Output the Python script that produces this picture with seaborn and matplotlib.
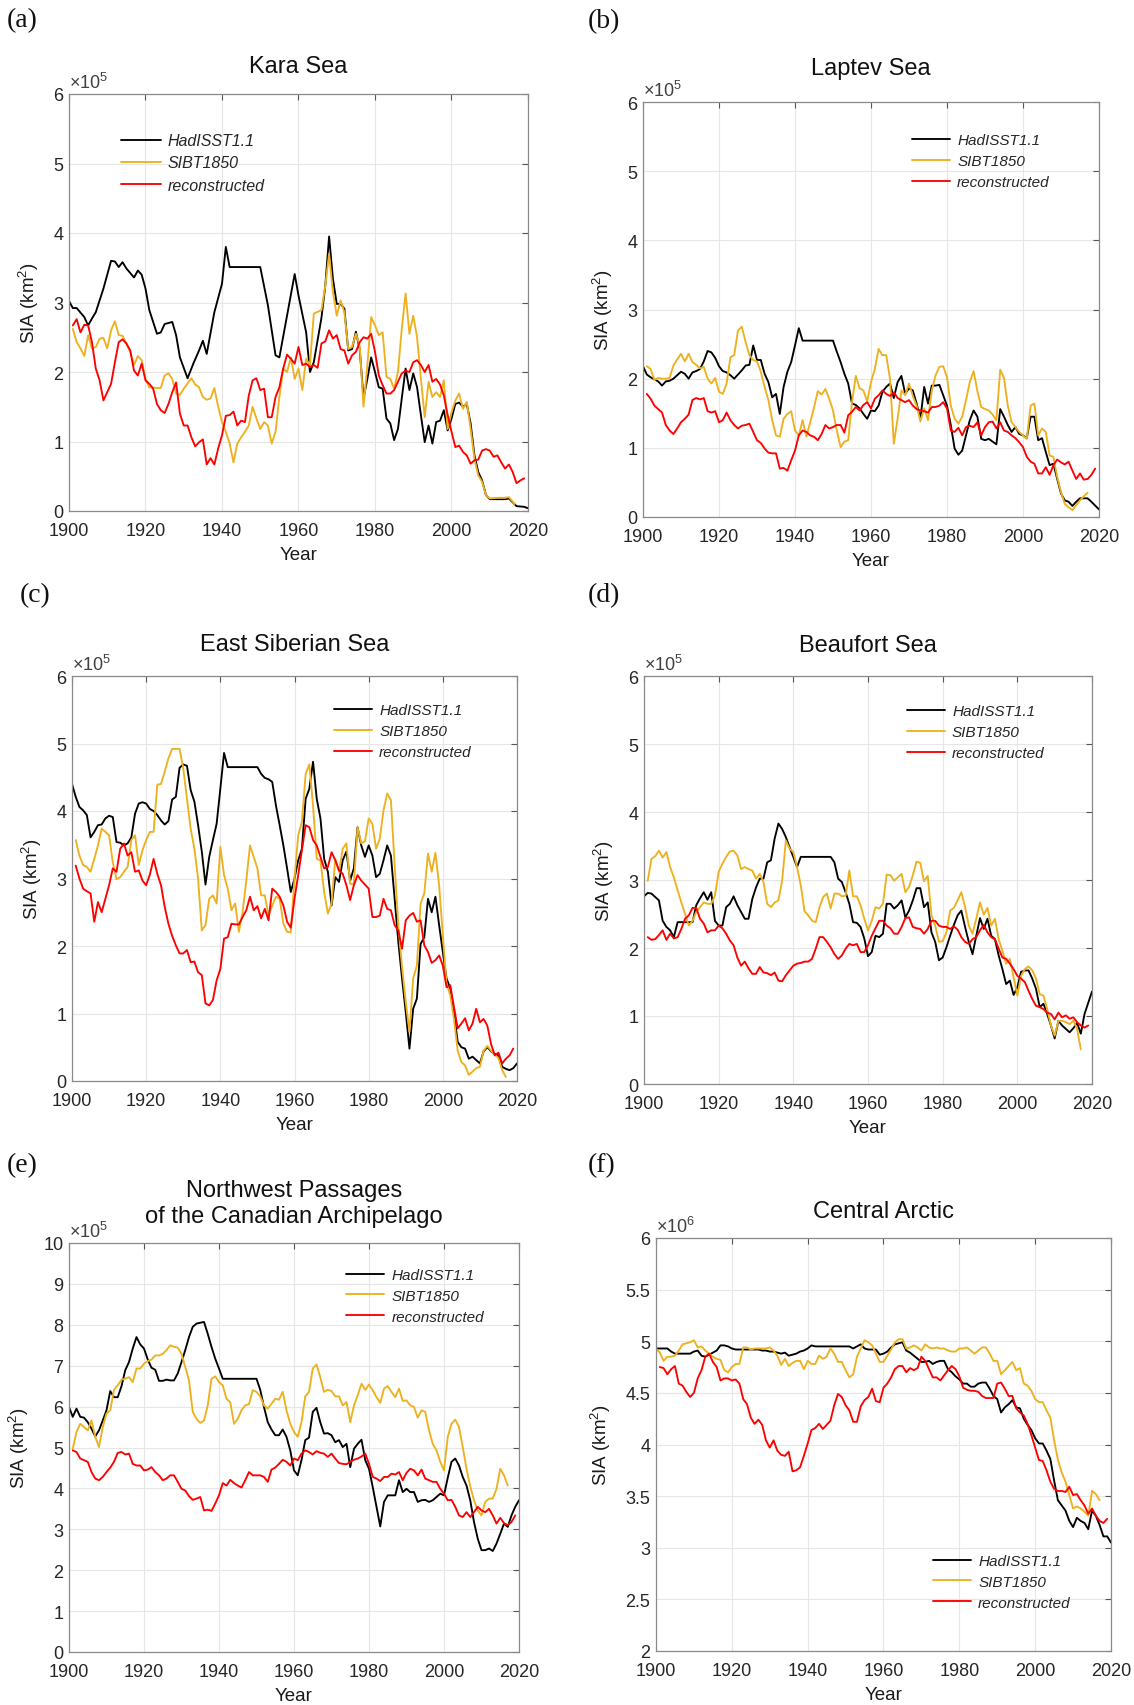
import matplotlib
matplotlib.use("Agg")
import matplotlib.pyplot as plt
import seaborn as sns

# ---------------- DATA (SIA; panels a-e in 1e5 km^2, panel f in 1e6 km^2) ----------------
SERIES_NAMES = ["HadISST1.1", "SIBT1850", "reconstructed"]
SERIES_COLORS = ["#000000", "#EDB120", "#FF0000"]

# (a) Kara Sea
A_HAD_YR = [1900, 1901, 1902, 1904, 1905, 1906, 1907, 1909, 1911, 1912, 1913, 1914, 1915, 1917, 1918, 1919, 1920,
            1921, 1923, 1924, 1925, 1927, 1928, 1929, 1931, 1932.5, 1934, 1935, 1936, 1938, 1940, 1941, 1942, 1950,
            1952, 1954, 1955, 1957, 1959, 1960, 1962, 1963, 1964, 1966, 1967, 1968, 1969, 1970, 1971, 1972, 1973,
            1974, 1975, 1976, 1977, 1978, 1979, 1980, 1981, 1982, 1983, 1984, 1985, 1986, 1987, 1988, 1989, 1990,
            1991, 1992, 1993, 1994, 1995, 1996, 1997, 1998, 1999, 2000, 2001, 2002, 2003, 2004, 2005, 2006, 2007,
            2008, 2009, 2010, 2012, 2014, 2015, 2017, 2019, 2020]
A_HAD = [3.02, 2.92, 2.92, 2.79, 2.67, 2.77, 2.86, 3.2, 3.6, 3.59, 3.51, 3.58, 3.49, 3.36, 3.46, 3.4, 3.2, 2.89, 2.55,
         2.57, 2.69, 2.72, 2.53, 2.21, 1.91, 2.12, 2.31, 2.45, 2.26, 2.86, 3.27, 3.8, 3.51, 3.51, 2.96, 2.24, 2.21,
         2.81, 3.41, 3.1, 2.57, 2.0, 2.14, 2.78, 3.24, 3.95, 3.34, 2.98, 2.98, 2.91, 2.31, 2.33, 2.58, 2.33, 1.62,
         1.9, 2.21, 2.0, 1.78, 1.76, 1.33, 1.26, 1.02, 1.18, 1.62, 2.05, 1.74, 1.98, 1.78, 1.38, 0.99, 1.23, 0.97,
         1.28, 1.3, 1.45, 1.16, 1.33, 1.54, 1.56, 1.5, 1.54, 1.26, 0.8, 0.56, 0.44, 0.23, 0.17, 0.17, 0.17, 0.18,
         0.07, 0.06, 0.04]
A_SIBT_YR = [1901, 1902, 1903, 1904, 1905, 1906, 1907, 1908, 1909, 1910, 1911, 1912, 1913, 1914, 1915, 1916, 1917,
             1918, 1919, 1920, 1921, 1923, 1924, 1925, 1926, 1927, 1928, 1929, 1930, 1932, 1933, 1934, 1935, 1936,
             1937, 1938, 1939, 1940, 1941, 1942, 1943, 1944, 1945, 1946, 1947, 1948, 1949, 1950, 1951, 1952, 1953,
             1954, 1955, 1956, 1957, 1958, 1959, 1960, 1961, 1962, 1963, 1964, 1966, 1967, 1968, 1969, 1970, 1971,
             1972, 1973, 1974, 1975, 1976, 1977, 1978, 1979, 1980, 1981, 1982, 1983, 1984, 1985, 1986, 1987, 1988,
             1989, 1990, 1991, 1992, 1993, 1994, 1995, 1996, 1997, 1998, 1999, 2000, 2001, 2002, 2003, 2004, 2005,
             2006, 2007, 2008, 2009, 2010, 2012, 2014, 2015, 2016.5]
A_SIBT = [2.62, 2.43, 2.34, 2.23, 2.53, 2.34, 2.36, 2.48, 2.49, 2.34, 2.6, 2.73, 2.53, 2.52, 2.41, 2.29, 2.1, 2.23,
          2.17, 1.9, 1.78, 1.77, 1.77, 1.95, 1.98, 1.9, 1.69, 1.67, 1.76, 1.91, 1.82, 1.78, 1.64, 1.6, 1.62, 1.77,
          1.5, 1.28, 1.14, 0.97, 0.7, 0.97, 1.06, 1.14, 1.23, 1.5, 1.33, 1.18, 1.28, 1.23, 0.97, 1.14, 1.64, 2.05,
          2.0, 2.21, 1.9, 2.05, 1.74, 2.19, 2.1, 2.84, 2.89, 3.24, 3.7, 3.15, 2.81, 3.03, 2.86, 2.33, 2.36, 2.55,
          2.38, 1.5, 2.1, 2.79, 2.67, 2.53, 2.57, 1.93, 1.9, 1.76, 2.0, 2.62, 3.13, 2.55, 2.81, 2.5, 1.9, 1.35, 1.86,
          1.64, 1.71, 1.64, 1.88, 1.18, 1.42, 1.59, 1.69, 1.47, 1.57, 1.18, 0.75, 0.51, 0.42, 0.23, 0.18, 0.19,
          0.19, 0.2, 0.1]
A_REC_YR = list(range(1901, 2020))
A_REC = [2.67, 2.76, 2.57, 2.68, 2.67, 2.43, 2.05, 1.88, 1.59, 1.71,
         1.83, 2.14, 2.43, 2.47, 2.41, 2.31, 2.02, 1.95, 2.12, 1.88,
         1.83, 1.76, 1.54, 1.45, 1.41, 1.54, 1.71, 1.85, 1.4, 1.23,
         1.23, 1.06, 0.93, 0.99, 1.03, 0.67, 0.76, 0.67, 0.9, 1.09,
         1.37, 1.38, 1.43, 1.23, 1.3, 1.28, 1.66, 1.88, 1.91, 1.74,
         1.76, 1.35, 1.35, 1.64, 1.78, 2.05, 2.25, 2.19, 2.12, 2.36,
         2.1, 2.12, 2.07, 2.1, 2.06, 2.41, 2.44, 2.6, 2.48, 2.53,
         2.33, 2.31, 2.12, 2.24, 2.29, 2.43, 2.5, 2.48, 2.55, 2.29,
         1.95, 1.81, 1.69, 1.69, 1.74, 1.86, 1.98, 2.02, 2.0, 2.14,
         2.17, 2.1, 2.0, 2.1, 1.86, 1.9, 1.82, 1.66, 1.38, 1.14,
         0.92, 0.94, 0.85, 0.8, 0.68, 0.73, 0.74, 0.87, 0.89, 0.87,
         0.78, 0.8, 0.7, 0.61, 0.67, 0.56, 0.4, 0.44, 0.47]

# (b) Laptev Sea
B_HAD_YR = [*range(1900, 1943), 1950, *range(1951, 2019), 2020]
B_HAD = [2.18, 2.06, 2.02, 1.99, 1.96, 1.9, 1.96, 1.97, 2.0, 2.05,
         2.1, 2.07, 2.0, 2.09, 2.11, 2.14, 2.25, 2.4, 2.38, 2.3,
         2.18, 2.11, 2.09, 2.05, 2.0, 2.06, 2.12, 2.19, 2.2, 2.48,
         2.27, 2.27, 2.07, 1.95, 1.73, 1.78, 1.49, 1.88, 2.1, 2.24,
         2.48, 2.73, 2.55,
         2.55,
         2.39, 2.24, 2.07, 1.93, 1.64, 1.62, 1.57, 1.49, 1.42, 1.54,
         1.53, 1.61, 1.81, 1.88, 1.93, 1.72, 1.95, 2.04, 1.78, 1.86,
         1.83, 1.64, 1.42, 1.88, 1.64, 1.9, 1.9, 1.91, 1.76, 1.61,
         1.33, 0.99, 0.9, 0.96, 1.18, 1.4, 1.54, 1.45, 1.13, 1.11,
         1.13, 1.09, 1.05, 1.56, 1.45, 1.33, 1.23, 1.3, 1.2, 1.18,
         1.14, 1.45, 1.45, 1.11, 1.14, 0.94, 0.75, 0.77, 0.55, 0.34,
         0.24, 0.22, 0.16, 0.22, 0.27, 0.27, 0.27, 0.22,
         0.11]
B_SIBT_YR = list(range(1901, 2018))
B_SIBT = [2.18, 2.14, 1.98, 2.01, 2.0, 2.0, 2.01, 2.19, 2.28, 2.36,
          2.25, 2.36, 2.24, 2.2, 2.15, 2.17, 2.0, 1.93, 2.01, 1.81,
          1.78, 1.93, 2.31, 2.34, 2.7, 2.75, 2.53, 2.34, 2.27, 2.25,
          2.1, 1.88, 1.69, 1.4, 1.18, 1.16, 1.42, 1.49, 1.53, 1.25,
          1.18, 1.4, 1.16, 1.37, 1.58, 1.82, 1.77, 1.85, 1.71, 1.54,
          1.25, 1.01, 1.09, 1.11, 1.66, 2.04, 1.86, 1.83, 1.67, 1.95,
          2.14, 2.43, 2.34, 2.34, 2.0, 1.06, 1.42, 1.83, 1.76, 1.93,
          1.75, 1.61, 1.38, 1.57, 1.4, 1.83, 2.05, 2.17, 2.18, 2.02,
          1.61, 1.42, 1.35, 1.45, 1.69, 1.95, 2.11, 1.82, 1.59, 1.56,
          1.54, 1.48, 1.4, 2.13, 2.01, 1.61, 1.37, 1.3, 1.23, 1.18,
          1.13, 1.61, 1.64, 1.18, 1.28, 1.23, 0.89, 0.87, 0.58, 0.36,
          0.19, 0.14, 0.1, 0.17, 0.24, 0.3, 0.35]
B_REC_YR = list(range(1901, 2020))
B_REC = [1.78, 1.71, 1.61, 1.56, 1.51, 1.33, 1.25, 1.2, 1.28, 1.37,
         1.42, 1.48, 1.69, 1.72, 1.7, 1.72, 1.53, 1.51, 1.53, 1.37,
         1.4, 1.51, 1.4, 1.33, 1.28, 1.32, 1.33, 1.35, 1.23, 1.11,
         1.07, 0.99, 0.93, 0.92, 0.92, 0.7, 0.71, 0.67, 0.82, 0.96,
         1.18, 1.25, 1.23, 1.18, 1.16, 1.11, 1.2, 1.33, 1.28, 1.3,
         1.33, 1.33, 1.22, 1.47, 1.52, 1.59, 1.54, 1.62, 1.66, 1.57,
         1.71, 1.76, 1.83, 1.78, 1.75, 1.8, 1.72, 1.69, 1.66, 1.69,
         1.61, 1.56, 1.54, 1.53, 1.51, 1.59, 1.59, 1.61, 1.66, 1.57,
         1.25, 1.23, 1.29, 1.18, 1.3, 1.32, 1.3, 1.37, 1.18, 1.3,
         1.37, 1.38, 1.28, 1.37, 1.25, 1.23, 1.18, 1.14, 1.08, 1.01,
         0.87, 0.8, 0.77, 0.63, 0.63, 0.72, 0.61, 0.75, 0.83, 0.79,
         0.76, 0.8, 0.67, 0.55, 0.63, 0.54, 0.55, 0.61, 0.7]

# (c) East Siberian Sea
C_HAD_YR = [*range(1900, 1943), 1950, *range(1951, 2021)]
C_HAD = [4.4, 4.21, 4.06, 4.01, 3.94, 3.61, 3.69, 3.79, 3.8, 3.89,
         3.93, 3.91, 3.54, 3.53, 3.49, 3.52, 3.61, 3.96, 4.11, 4.13,
         4.11, 4.03, 4.0, 3.94, 3.86, 3.8, 3.85, 4.17, 4.21, 4.64,
         4.69, 4.67, 4.31, 4.14, 3.79, 3.4, 2.91, 3.32, 3.57, 3.81,
         4.33, 4.86, 4.65,
         4.65,
         4.55, 4.49, 4.47, 4.43, 4.08, 3.79, 3.49, 3.15, 2.8, 3.0,
         3.27, 3.44, 4.18, 4.33, 4.73, 4.18, 3.89, 3.29, 3.1, 2.6,
         3.02, 2.95, 3.27, 3.4, 2.97, 3.15, 3.76, 3.49, 3.32, 3.49,
         3.34, 3.02, 3.07, 3.27, 3.49, 3.34, 2.7, 2.06, 1.52, 1.02,
         0.48, 1.07, 1.22, 2.03, 2.13, 2.7, 2.5, 2.73, 2.31, 1.91,
         1.52, 1.37, 1.02, 0.58, 0.5, 0.48, 0.33, 0.36, 0.31, 0.26,
         0.44, 0.5, 0.44, 0.4, 0.38, 0.21, 0.18, 0.16, 0.19, 0.26]
C_SIBT_YR = list(range(1901, 2018))
C_SIBT = [3.57, 3.34, 3.2, 3.17, 3.1, 3.29, 3.49, 3.74, 3.69, 3.64,
          3.24, 2.99, 3.02, 3.1, 3.17, 3.57, 3.64, 3.2, 3.42, 3.57,
          3.69, 3.69, 4.39, 4.4, 4.58, 4.78, 4.92, 4.92, 4.92, 4.63,
          4.18, 3.74, 3.44, 3.0, 2.23, 2.31, 2.7, 2.75, 2.63, 3.47,
          3.05, 2.85, 2.53, 2.63, 2.21, 2.5, 2.97, 3.49, 3.32, 3.15,
          2.75, 2.75, 2.45, 2.6, 2.73, 2.7, 2.33, 2.21, 2.2, 3.0,
          3.64, 3.84, 4.55, 4.69, 4.08, 3.29, 3.27, 2.8, 2.48, 2.63,
          3.29, 3.1, 3.44, 3.52, 2.92, 2.92, 3.76, 3.52, 3.55, 3.89,
          3.81, 3.44, 3.59, 4.01, 4.26, 4.16, 3.2, 2.31, 1.69, 1.17,
          0.73, 1.52, 1.71, 2.63, 2.78, 3.37, 3.1, 3.38, 2.9, 2.16,
          1.44, 1.27, 0.92, 0.45, 0.28, 0.23, 0.09, 0.14, 0.19, 0.21,
          0.45, 0.52, 0.45, 0.39, 0.34, 0.16, 0.06]
C_REC_YR = list(range(1901, 2020))
C_REC = [3.19, 3.0, 2.85, 2.81, 2.78, 2.36, 2.65, 2.5, 2.7, 2.9,
         3.15, 3.1, 3.44, 3.52, 3.34, 3.39, 3.1, 3.12, 2.97, 2.9,
         3.06, 3.29, 3.07, 2.9, 2.58, 2.33, 2.15, 2.01, 1.89, 1.89,
         1.94, 1.76, 1.77, 1.61, 1.57, 1.15, 1.12, 1.2, 1.49, 1.66,
         2.11, 2.13, 2.33, 2.32, 2.32, 2.43, 2.53, 2.73, 2.53, 2.59,
         2.41, 2.55, 2.38, 2.85, 2.8, 2.73, 2.6, 2.36, 2.27, 2.7,
         3.05, 3.42, 3.79, 3.76, 3.57, 3.49, 3.32, 3.15, 3.17, 3.39,
         3.27, 3.12, 3.07, 2.9, 2.68, 2.9, 3.05, 2.97, 2.91, 2.85,
         2.43, 2.43, 2.45, 2.7, 2.55, 2.53, 2.31, 2.23, 1.96, 2.38,
         2.45, 2.49, 2.36, 2.38, 2.01, 1.91, 1.75, 1.79, 1.86, 1.71,
         1.39, 1.42, 1.1, 0.78, 0.85, 0.93, 0.75, 0.85, 1.07, 0.87,
         0.92, 0.82, 0.55, 0.38, 0.42, 0.26, 0.33, 0.38, 0.48]

# (d) Beaufort Sea
D_HAD_YR = [*range(1900, 1943), 1950, *range(1951, 2019), 2020]
D_HAD = [2.76, 2.81, 2.8, 2.75, 2.7, 2.4, 2.31, 2.26, 2.16, 2.38,
         2.38, 2.38, 2.38, 2.38, 2.63, 2.73, 2.82, 2.71, 2.82, 2.4,
         2.33, 2.33, 2.6, 2.65, 2.76, 2.63, 2.53, 2.43, 2.43, 2.72,
         2.89, 3.02, 3.02, 3.26, 3.29, 3.61, 3.83, 3.75, 3.63, 3.48,
         3.34, 3.19, 3.34,
         3.34,
         3.26, 3.02, 2.97, 2.82, 2.65, 2.38, 2.37, 2.31, 2.14, 1.88,
         1.94, 2.18, 2.16, 2.21, 2.65, 2.65, 2.58, 2.63, 2.7, 2.45,
         2.55, 2.7, 2.88, 2.88, 2.6, 2.67, 2.23, 2.09, 1.82, 1.86,
         2.01, 2.18, 2.34, 2.48, 2.55, 2.31, 2.09, 1.91, 2.18, 2.44,
         2.28, 2.43, 2.18, 2.13, 1.89, 1.69, 1.47, 1.52, 1.31, 1.42,
         1.65, 1.67, 1.67, 1.55, 1.4, 1.13, 1.18, 1.03, 0.86, 0.67,
         0.93, 0.86, 0.81, 0.76, 0.82, 0.9, 0.74, 1.03,
         1.36]
D_SIBT_YR = list(range(1901, 2018))
D_SIBT = [2.99, 3.31, 3.35, 3.43, 3.33, 3.41, 3.19, 3.04, 2.85, 2.67,
          2.5, 2.33, 2.4, 2.53, 2.6, 2.67, 2.65, 2.65, 2.77, 3.12,
          3.24, 3.34, 3.42, 3.43, 3.36, 3.16, 3.19, 3.16, 3.14, 3.02,
          3.09, 2.97, 2.65, 2.6, 2.67, 2.7, 2.99, 3.58, 3.46, 3.41,
          3.19, 2.92, 2.54, 2.48, 2.4, 2.38, 2.6, 2.75, 2.8, 2.58,
          2.8, 2.8, 2.76, 2.77, 3.14, 2.76, 2.76, 2.63, 2.43, 2.26,
          2.4, 2.6, 2.58, 2.65, 3.08, 3.07, 2.99, 3.04, 3.09, 2.82,
          2.9, 3.07, 3.27, 3.25, 2.98, 3.06, 2.48, 2.33, 2.09, 2.1,
          2.23, 2.55, 2.59, 2.7, 2.82, 2.6, 2.33, 2.21, 2.43, 2.67,
          2.49, 2.59, 2.33, 2.43, 2.13, 1.96, 1.77, 1.84, 1.57, 1.3,
          1.59, 1.69, 1.73, 1.67, 1.55, 1.32, 1.3, 1.1, 0.86, 0.71,
          0.93, 0.93, 0.91, 0.88, 0.93, 0.81, 0.51]
D_REC_YR = list(range(1901, 2020))
D_REC = [2.16, 2.12, 2.13, 2.19, 2.26, 2.12, 2.21, 2.14, 2.16, 2.28,
         2.43, 2.48, 2.59, 2.59, 2.43, 2.36, 2.23, 2.26, 2.26, 2.33,
         2.29, 2.21, 2.11, 2.04, 1.86, 1.74, 1.8, 1.7, 1.62, 1.62,
         1.72, 1.64, 1.63, 1.6, 1.64, 1.52, 1.51, 1.6, 1.67, 1.74,
         1.77, 1.78, 1.8, 1.8, 1.84, 1.99, 2.16, 2.16, 2.09, 2.01,
         1.91, 1.84, 1.89, 1.99, 2.06, 2.04, 2.06, 1.94, 1.94, 2.04,
         2.18, 2.29, 2.4, 2.4, 2.33, 2.29, 2.21, 2.21, 2.31, 2.44,
         2.45, 2.31, 2.29, 2.28, 2.21, 2.28, 2.4, 2.4, 2.33, 2.31,
         2.31, 2.28, 2.32, 2.27, 2.16, 2.09, 2.06, 2.13, 2.16, 2.26,
         2.34, 2.23, 2.16, 2.13, 1.99, 1.86, 1.84, 1.77, 1.69, 1.59,
         1.55, 1.5, 1.37, 1.25, 1.15, 1.13, 1.1, 1.05, 1.03, 0.95,
         1.05, 0.98, 1.01, 0.96, 0.98, 0.91, 0.86, 0.83, 0.86]

# (e) Northwest Passages of the Canadian Archipelago
E_HAD_YR = [*range(1900, 1943), 1950, *range(1951, 2021)]
E_HAD = [5.99, 5.75, 5.95, 5.75, 5.73, 5.62, 5.46, 5.27, 5.42, 5.66,
         5.91, 6.38, 6.23, 6.23, 6.5, 6.89, 7.09, 7.42, 7.7, 7.52,
         7.42, 7.15, 6.95, 6.9, 6.63, 6.63, 6.66, 6.64, 6.64, 6.81,
         7.09, 7.38, 7.7, 7.95, 8.03, 8.05, 8.07, 7.78, 7.46, 7.17,
         6.93, 6.68, 6.68,
         6.68,
         6.41, 5.99, 5.62, 5.44, 5.3, 5.3, 5.44, 5.26, 4.93, 4.44,
         4.32, 4.69, 5.18, 5.24, 5.87, 5.97, 5.62, 5.34, 5.35, 5.3,
         5.13, 5.18, 5.01, 5.09, 4.52, 4.97, 5.09, 5.19, 4.69, 4.48,
         4.03, 3.55, 3.07, 3.67, 3.83, 3.83, 3.83, 4.2, 3.91, 3.99,
         3.91, 3.91, 3.67, 3.71, 3.72, 3.67, 3.71, 3.79, 3.87, 3.83,
         4.26, 4.65, 4.73, 4.56, 4.28, 4.07, 3.71, 3.18, 2.77, 2.49,
         2.49, 2.53, 2.47, 2.65, 2.89, 3.14, 3.06, 3.34, 3.55, 3.71]
E_SIBT_YR = list(range(1901, 2018))
E_SIBT = [4.97, 5.38, 5.58, 5.5, 5.42, 5.66, 5.26, 5.01, 5.5, 5.83,
          5.91, 6.41, 6.52, 6.66, 6.68, 6.72, 6.6, 6.93, 6.93, 7.05,
          7.11, 7.15, 7.25, 7.25, 7.29, 7.38, 7.5, 7.46, 7.44, 7.29,
          6.97, 6.64, 5.87, 5.7, 5.6, 5.66, 6.03, 6.68, 6.74, 6.6,
          6.52, 6.19, 6.11, 5.58, 5.7, 5.91, 6.03, 6.06, 6.4, 6.36,
          6.25, 6.03, 5.95, 6.07, 6.19, 6.17, 6.36, 5.91, 5.58, 5.38,
          5.26, 5.62, 6.25, 6.36, 6.93, 7.03, 6.72, 6.36, 6.41, 6.38,
          6.25, 6.25, 6.03, 6.11, 5.62, 6.03, 6.28, 6.56, 6.41, 6.54,
          6.4, 6.23, 6.09, 6.44, 6.5, 6.36, 6.23, 6.44, 6.14, 6.15,
          6.03, 5.99, 5.73, 5.91, 5.87, 5.42, 5.09, 4.93, 4.65, 4.44,
          5.26, 5.58, 5.68, 5.5, 5.01, 4.48, 4.05, 3.71, 3.46, 3.34,
          3.67, 3.75, 3.75, 3.99, 4.48, 4.32, 4.07]
E_REC_YR = list(range(1901, 2020))
E_REC = [4.93, 4.89, 4.73, 4.69, 4.65, 4.4, 4.24, 4.2, 4.28, 4.4,
         4.51, 4.65, 4.87, 4.89, 4.83, 4.85, 4.6, 4.56, 4.56, 4.44,
         4.46, 4.52, 4.4, 4.32, 4.2, 4.24, 4.32, 4.32, 4.16, 3.99,
         3.95, 3.81, 3.72, 3.75, 3.79, 3.46, 3.48, 3.45, 3.63, 3.83,
         4.13, 4.07, 4.21, 4.13, 4.07, 4.02, 4.2, 4.4, 4.32, 4.32,
         4.32, 4.28, 4.16, 4.46, 4.51, 4.6, 4.7, 4.65, 4.56, 4.73,
         4.69, 4.85, 4.93, 4.89, 4.83, 4.91, 4.87, 4.85, 4.77, 4.85,
         4.73, 4.62, 4.6, 4.59, 4.65, 4.7, 4.73, 4.78, 4.85, 4.6,
         4.28, 4.24, 4.18, 4.28, 4.28, 4.36, 4.34, 4.4, 4.2, 4.38,
         4.48, 4.44, 4.32, 4.46, 4.24, 4.2, 4.16, 4.16, 3.99, 3.87,
         3.71, 3.72, 3.55, 3.34, 3.3, 3.42, 3.3, 3.42, 3.55, 3.46,
         3.42, 3.5, 3.34, 3.14, 3.28, 3.15, 3.1, 3.18, 3.34]

# (f) Central Arctic (1e6 km^2)
F_HAD_YR = list(range(1900, 2021))
F_HAD = [4.93, 4.93, 4.93, 4.93, 4.9, 4.88, 4.88, 4.88, 4.88, 4.88,
         4.9, 4.91, 4.86, 4.85, 4.87, 4.89, 4.91, 4.96, 4.96, 4.95,
         4.93, 4.92, 4.92, 4.92, 4.92, 4.92, 4.92, 4.92, 4.91, 4.91,
         4.9, 4.9, 4.89, 4.88, 4.89, 4.86, 4.87, 4.88, 4.9, 4.91,
         4.93, 4.96, 4.95, 4.95, 4.95, 4.95, 4.95, 4.95, 4.95, 4.95,
         4.95, 4.95, 4.93, 4.95, 4.97, 4.93, 4.92, 4.92, 4.92, 4.87,
         4.88, 4.9, 4.94, 4.97, 4.98, 4.99, 4.91, 4.89, 4.86, 4.83,
         4.8, 4.8, 4.81, 4.78, 4.8, 4.81, 4.81, 4.73, 4.7, 4.66,
         4.63, 4.59, 4.59, 4.56, 4.56, 4.59, 4.6, 4.6, 4.54, 4.47,
         4.44, 4.31, 4.36, 4.39, 4.43, 4.36, 4.35, 4.25, 4.19, 4.14,
         4.06, 4.01, 4.01, 3.94, 3.86, 3.65, 3.46, 3.41, 3.36, 3.26,
         3.2, 3.29, 3.26, 3.24, 3.18, 3.36, 3.31, 3.22, 3.11, 3.11, 3.05]
F_SIBT_YR = list(range(1900, 2018))
F_SIBT = [4.93, 4.89, 4.81, 4.85, 4.85, 4.86, 4.91, 4.97, 4.98, 4.99,
          5.01, 4.94, 4.95, 4.91, 4.88, 4.85, 4.83, 4.82, 4.72, 4.7,
          4.75, 4.78, 4.78, 4.94, 4.94, 4.92, 4.93, 4.93, 4.93, 4.93,
          4.94, 4.91, 4.86, 4.77, 4.83, 4.76, 4.79, 4.81, 4.81, 4.73,
          4.81, 4.78, 4.78, 4.86, 4.83, 4.85, 4.93, 4.88, 4.8, 4.8,
          4.72, 4.65, 4.68, 4.85, 4.93, 5.01, 4.99, 4.96, 4.88, 4.8,
          4.8, 4.86, 4.92, 4.99, 5.02, 5.02, 4.93, 4.94, 4.96, 4.94,
          4.91, 4.97, 4.94, 4.93, 4.94, 4.93, 4.93, 4.91, 4.9, 4.9,
          4.93, 4.93, 4.94, 4.91, 4.88, 4.91, 4.94, 4.94, 4.88, 4.81,
          4.81, 4.68, 4.72, 4.76, 4.8, 4.72, 4.74, 4.59, 4.57, 4.52,
          4.44, 4.41, 4.41, 4.33, 4.26, 4.04, 3.85, 3.73, 3.64, 3.51,
          3.38, 3.4, 3.38, 3.35, 3.31, 3.55, 3.52, 3.46]
F_REC_YR = list(range(1901, 2020))
F_REC = [4.75, 4.74, 4.68, 4.73, 4.76, 4.59, 4.57, 4.51, 4.46, 4.5,
         4.64, 4.72, 4.85, 4.88, 4.8, 4.75, 4.62, 4.64, 4.64, 4.62,
         4.63, 4.59, 4.44, 4.39, 4.26, 4.2, 4.24, 4.19, 4.04, 3.97,
         4.04, 3.94, 3.9, 3.89, 3.93, 3.74, 3.75, 3.78, 3.89, 4.01,
         4.14, 4.16, 4.2, 4.15, 4.19, 4.23, 4.38, 4.49, 4.46, 4.38,
         4.33, 4.22, 4.22, 4.37, 4.43, 4.46, 4.54, 4.42, 4.41, 4.55,
         4.59, 4.65, 4.73, 4.76, 4.76, 4.7, 4.74, 4.72, 4.74, 4.85,
         4.81, 4.73, 4.65, 4.65, 4.62, 4.67, 4.72, 4.76, 4.73, 4.66,
         4.55, 4.53, 4.52, 4.52, 4.51, 4.47, 4.45, 4.45, 4.45, 4.59,
         4.6, 4.54, 4.47, 4.47, 4.35, 4.31, 4.28, 4.2, 4.09, 3.97,
         3.85, 3.84, 3.75, 3.64, 3.57, 3.55, 3.55, 3.54, 3.59, 3.51,
         3.52, 3.46, 3.41, 3.33, 3.38, 3.31, 3.26, 3.24, 3.28]

TITLES = ["Kara Sea", "Laptev Sea", "East Siberian Sea", "Beaufort Sea",
          "Northwest Passages\nof the Canadian Archipelago", "Central Arctic"]
PANEL_LETTERS = ["(a)", "(b)", "(c)", "(d)", "(e)", "(f)"]
EXPONENTS = [5, 5, 5, 5, 5, 6]
X_TICKS = [1900, 1920, 1940, 1960, 1980, 2000, 2020]
Y_TICKS_SIX = [0, 1, 2, 3, 4, 5, 6]
Y_TICKS_TEN = [0, 1, 2, 3, 4, 5, 6, 7, 8, 9, 10]
Y_TICKS_F = [2, 2.5, 3, 3.5, 4, 4.5, 5, 5.5, 6]
Y_TICKLABELS_F = ["2", "2.5", "3", "3.5", "4", "4.5", "5", "5.5", "6"]

# ---------------- STYLE ----------------
sns.set_theme(style="white")
plt.rcParams["font.family"] = ["Liberation Sans", "DejaVu Sans"]
plt.rcParams["mathtext.fontset"] = "custom"
plt.rcParams["mathtext.rm"] = "Liberation Sans"
plt.rcParams["mathtext.it"] = "Liberation Sans:italic"

W, H = 1134, 1706
fig = plt.figure(figsize=(W / 100, H / 100), dpi=100)
fig.patch.set_facecolor("white")

# axes boxes in pixels: left, top, right, bottom
BOXES = [(69, 95, 528, 512), (643, 103, 1099, 518),
         (72, 677, 517, 1082), (644, 677, 1092, 1085),
         (69, 1244, 519, 1653), (656, 1239, 1111, 1652)]
TITLE_PADS = [16, 20, 19, 18, 15, 15]
LEGEND_ANCHORS = [(0.113, 0.906), (0.59, 0.925), (0.589, 0.933),
                  (0.587, 0.931), (0.616, 0.939), (0.609, 0.235)]
LEGEND_SIZES = [11.5, 11, 11, 11, 11, 11]
LETTER_POS = [(7, 21), (588, 22), (20, 596), (588, 596), (7, 1166), (588, 1166)]

panel_series = [
    [(A_HAD_YR, A_HAD), (A_SIBT_YR, A_SIBT), (A_REC_YR, A_REC)],
    [(B_HAD_YR, B_HAD), (B_SIBT_YR, B_SIBT), (B_REC_YR, B_REC)],
    [(C_HAD_YR, C_HAD), (C_SIBT_YR, C_SIBT), (C_REC_YR, C_REC)],
    [(D_HAD_YR, D_HAD), (D_SIBT_YR, D_SIBT), (D_REC_YR, D_REC)],
    [(E_HAD_YR, E_HAD), (E_SIBT_YR, E_SIBT), (E_REC_YR, E_REC)],
    [(F_HAD_YR, F_HAD), (F_SIBT_YR, F_SIBT), (F_REC_YR, F_REC)],
]

for i in range(6):
    l, t, r, b = BOXES[i]
    ax = fig.add_axes([l / W, 1 - b / H, (r - l) / W, (b - t) / H])
    for (yrs, vals), name, col in zip(panel_series[i], SERIES_NAMES, SERIES_COLORS):
        assert len(yrs) == len(vals), (PANEL_LETTERS[i], name, len(yrs), len(vals))
        sns.lineplot(x=yrs, y=vals, ax=ax, color=col, linewidth=1.35, label=name,
                     estimator=None, sort=False)
    ax.set_xlim(1900, 2020)
    ax.set_xticks(X_TICKS)
    if i < 4:
        ax.set_ylim(0, 6)
        ax.set_yticks(Y_TICKS_SIX)
    elif i == 4:
        ax.set_ylim(0, 10)
        ax.set_yticks(Y_TICKS_TEN)
    else:
        ax.set_ylim(2, 6)
        ax.set_yticks(Y_TICKS_F)
        ax.set_yticklabels(Y_TICKLABELS_F)
    ax.grid(True, color="#e6e6e6", linewidth=0.8)
    ax.set_axisbelow(True)
    for s in ax.spines.values():
        s.set_color("#8a8a8a")
        s.set_linewidth(0.9)
    ax.tick_params(direction="in", top=True, right=True, length=4, width=0.8,
                   color="#555555", labelsize=13, labelcolor="#262626")
    ax.tick_params(axis="x", pad=8)
    ax.tick_params(axis="y", pad=4)
    ax.set_xlabel("Year", fontsize=13.5, labelpad=5, color="#1a1a1a")
    ax.set_ylabel("SIA (km$^2$)", fontsize=13.5, labelpad=9, color="#1a1a1a")
    ax.set_title(TITLES[i], fontsize=17, pad=TITLE_PADS[i], color="#111111", linespacing=1.25)
    ax.text(0.0, 1.004, r"$\times10^{%d}$" % EXPONENTS[i], transform=ax.transAxes,
            ha="left", va="bottom", fontsize=13, color="#404040")
    ax.legend(loc="upper left", bbox_to_anchor=LEGEND_ANCHORS[i], frameon=False,
              borderpad=0, borderaxespad=0, handlelength=2.5, handletextpad=0.45,
              labelspacing=0.45, prop={"style": "italic", "size": LEGEND_SIZES[i]})
    lx, ly = LETTER_POS[i]
    fig.text(lx / W, 1 - ly / H, PANEL_LETTERS[i], ha="left", va="center",
             fontsize=20, family=["Liberation Serif", "DejaVu Serif"], color="#111111")

fig.savefig("out.png", dpi=100, facecolor="white")
